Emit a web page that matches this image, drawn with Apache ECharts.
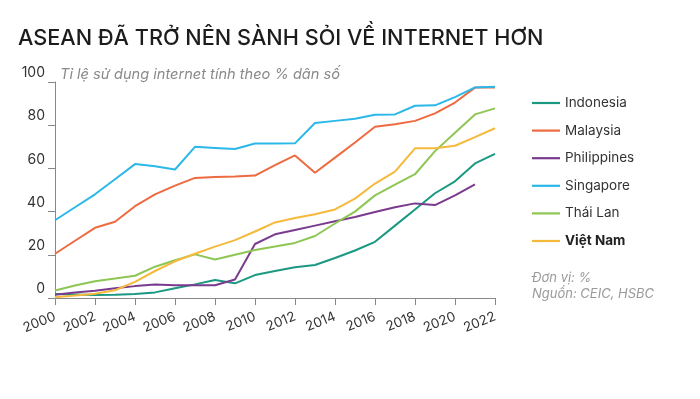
<!DOCTYPE html>
<html>
<head>
<meta charset="utf-8">
<script src="https://cdn.jsdelivr.net/npm/echarts@6/dist/echarts.min.js"></script>
<style>
html,body{margin:0;padding:0;background:#fff;}
#chart{width:700px;height:399px;}
</style>
</head>
<body>
<div id="chart"></div>
<script>
const years = [2000,2001,2002,2003,2004,2005,2006,2007,2008,2009,2010,2011,2012,2013,2014,2015,2016,2017,2018,2019,2020,2021,2022];
const seriesNames = ['Indonesia','Malaysia','Philippines','Singapore','Thái Lan','Việt Nam'];
const indonesia   = [1.8,1.6,1.4,1.5,1.9,2.6,4.5,6.3,8.3,6.8,10.6,12.5,14.2,15.3,18.5,22,26,33.5,41,48.5,54,62.3,66.7];
const malaysia    = [20.5,26.5,32.5,35.3,42.5,48,52,55.6,56,56.3,56.7,61.5,66,58,65,72,79.3,80.4,82,85.5,90.5,97.4,97.4];
const philippines = [1.5,2.5,3.4,4.5,5.5,6.2,5.9,5.9,5.9,8.6,25,29.5,31.5,33.5,35.5,37.5,39.8,42,43.8,43,47.5,52.6,null];
const singapore   = [36,42,48,55,62,61,59.5,70,69.5,69,71.5,71.5,71.6,81,82,83,84.8,85,89,89.2,93,97.5,97.8];
const thailand    = [3.5,5.8,7.8,9,10.3,14.5,17.5,20.2,17.8,20,22.2,23.8,25.5,28.7,34.5,40,47.5,52.5,57.3,68,76.5,85,87.8];
const vietnam     = [0.3,1.2,2,3.6,7.5,12.5,17,20.5,23.8,26.8,30.8,35,37,38.8,41,46,53,58.5,69.3,69.3,70.5,74.5,78.6];
const seriesValues = [indonesia, malaysia, philippines, singapore, thailand, vietnam];
const colors = ['#1b9882','#ee6a3f','#7a3b8f','#2bb8e8','#8ec653','#f5b93b'];
const yTicks = [0,20,40,60,80,100];

const FONT = 'Inter, "Noto Sans", sans-serif';
const chart = echarts.init(document.getElementById('chart'));

const series = seriesNames.map((name, i) => ({
  name: name,
  type: 'line',
  symbol: 'none',
  connectNulls: false,
  lineStyle: { width: 2, color: colors[i] },
  itemStyle: { color: colors[i] },
  data: years.map((y, j) => [y, seriesValues[i][j]]).filter(p => p[1] !== null)
}));

chart.setOption({
  animation: false,
  textStyle: { fontFamily: FONT },
  title: [
    { text: 'ASEAN ĐÃ TRỞ NÊN SÀNH SỎI VỀ INTERNET HƠN', left: 13, top: 22,
      textStyle: { fontFamily: FONT, fontSize: 21.7, fontWeight: 500, color: '#1c1c1c' } },
    { text: 'Tỉ lệ sử dụng internet tính theo % dân số', left: 55, top: 62,
      textStyle: { fontFamily: FONT, fontSize: 14.6, fontStyle: 'italic', fontWeight: 'normal', color: '#8a8a8a' } },
    { text: 'Đơn vị: %\nNguồn: CEIC, HSBC', left: 527, top: 265,
      textStyle: { fontFamily: FONT, fontSize: 13, fontStyle: 'italic', fontWeight: 'normal', color: '#9a9a9a', lineHeight: 16 } }
  ],
  legend: {
    orient: 'vertical',
    left: 527, top: 91,
    itemWidth: 28, itemHeight: 14, itemGap: 13.6,
    icon: 'path://M0,0H28V2.2H0Z',
    symbolKeepAspect: true,
    textStyle: { fontFamily: FONT, fontSize: 13.5, color: '#333',
      rich: { b: { fontFamily: FONT, fontSize: 13.5, fontWeight: 'bold', color: '#222' } } },
    formatter: name => name === 'Việt Nam' ? '{b|' + name + '}' : name,
    data: seriesNames
  },
  grid: { left: 55, right: 205, top: 82, bottom: 101, containLabel: false },
  xAxis: {
    type: 'value', min: 2000, max: 2022, interval: 2,
    axisLine: { show: true, lineStyle: { color: '#888', width: 1 } },
    axisTick: { show: true, length: 7, lineStyle: { color: '#888' } },
    splitLine: { show: false },
    axisLabel: { rotate: 22, margin: 18, fontSize: 13.5, color: '#333', fontFamily: FONT,
      formatter: v => String(v) }
  },
  yAxis: {
    type: 'value', min: 0, max: 100, interval: 20,
    axisLine: { show: true, lineStyle: { color: '#888', width: 1 } },
    axisTick: { show: true, length: 7, lineStyle: { color: '#888' } },
    splitLine: { show: false },
    axisLabel: { margin: 10, fontSize: 14, color: '#333', fontFamily: FONT,
      verticalAlign: 'bottom', padding: [0,0,2,0],
      formatter: v => yTicks.indexOf(v) >= 0 ? String(v) : '' }
  },
  series: series
});
</script>
</body>
</html>
